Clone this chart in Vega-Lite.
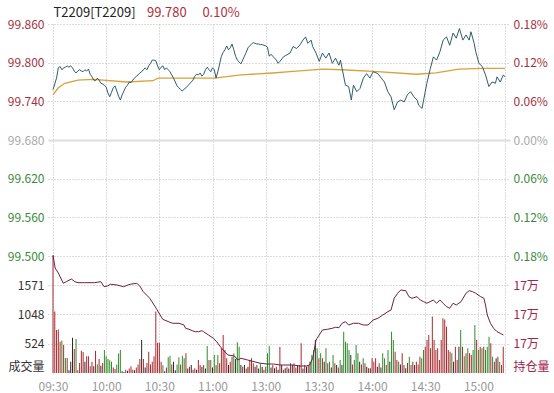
{
  "$schema": "https://vega.github.io/schema/vega-lite/v6.json",
  "width": 462,
  "height": 349,
  "autosize": {"type": "none"},
  "padding": {"left": 48, "top": 24, "right": 44, "bottom": 20},
  "background": "white",
  "config": {
    "view": {"stroke": null},
    "axis": {"labelFont": "Noto Sans CJK SC", "labelFontSize": 12, "domain": false, "ticks": false, "tickSize": 0, "labelFlush": false, "labelOverlap": false, "title": null}
  },
  "datasets": {
    "price": [
      {"t":0,"p":99.758},{"t":1,"p":99.767},{"t":2,"p":99.776},{"t":3,"p":99.792},{"t":4,"p":99.794},{"t":5,"p":99.789},{"t":6,"p":99.792},{"t":7,"p":99.793},{"t":8,"p":99.795},{"t":9,"p":99.793},
      {"t":10,"p":99.795},{"t":11,"p":99.792},{"t":12,"p":99.787},{"t":13,"p":99.784},{"t":14,"p":99.787},{"t":15,"p":99.789},{"t":16,"p":99.787},{"t":17,"p":99.786},{"t":18,"p":99.789},{"t":19,"p":99.787},
      {"t":20,"p":99.790},{"t":21,"p":99.782},{"t":22,"p":99.778},{"t":23,"p":99.773},{"t":24,"p":99.772},{"t":25,"p":99.776},{"t":26,"p":99.773},{"t":27,"p":99.768},{"t":28,"p":99.767},{"t":29,"p":99.765},
      {"t":30,"p":99.762},{"t":31,"p":99.753},{"t":32,"p":99.747},{"t":33,"p":99.754},{"t":34,"p":99.761},{"t":35,"p":99.764},{"t":36,"p":99.756},{"t":37,"p":99.748},{"t":38,"p":99.742},{"t":39,"p":99.750},
      {"t":40,"p":99.756},{"t":41,"p":99.762},{"t":42,"p":99.765},{"t":43,"p":99.770},{"t":44,"p":99.769},{"t":45,"p":99.773},{"t":46,"p":99.776},{"t":47,"p":99.779},{"t":48,"p":99.781},{"t":49,"p":99.784},
      {"t":50,"p":99.786},{"t":51,"p":99.789},{"t":52,"p":99.792},{"t":53,"p":99.789},{"t":54,"p":99.795},{"t":55,"p":99.799},{"t":56,"p":99.804},{"t":57,"p":99.804},{"t":58,"p":99.803},{"t":59,"p":99.795},
      {"t":60,"p":99.789},{"t":61,"p":99.793},{"t":62,"p":99.795},{"t":63,"p":99.789},{"t":64,"p":99.792},{"t":65,"p":99.789},{"t":66,"p":99.786},{"t":67,"p":99.781},{"t":68,"p":99.776},{"t":69,"p":99.770},
      {"t":70,"p":99.764},{"t":71,"p":99.761},{"t":72,"p":99.758},{"t":73,"p":99.756},{"t":74,"p":99.759},{"t":75,"p":99.761},{"t":76,"p":99.764},{"t":77,"p":99.767},{"t":78,"p":99.770},{"t":79,"p":99.773},
      {"t":80,"p":99.779},{"t":81,"p":99.782},{"t":82,"p":99.781},{"t":83,"p":99.784},{"t":84,"p":99.779},{"t":85,"p":99.782},{"t":86,"p":99.789},{"t":87,"p":99.793},{"t":88,"p":99.789},{"t":89,"p":99.786},
      {"t":90,"p":99.792},{"t":91,"p":99.789},{"t":92,"p":99.776},{"t":93,"p":99.786},{"t":94,"p":99.798},{"t":95,"p":99.810},{"t":96,"p":99.816},{"t":97,"p":99.820},{"t":98,"p":99.826},{"t":99,"p":99.820},
      {"t":100,"p":99.823},{"t":101,"p":99.829},{"t":102,"p":99.820},{"t":103,"p":99.810},{"t":104,"p":99.804},{"t":105,"p":99.801},{"t":106,"p":99.798},{"t":107,"p":99.804},{"t":108,"p":99.810},{"t":109,"p":99.816},
      {"t":110,"p":99.823},{"t":111,"p":99.826},{"t":112,"p":99.829},{"t":113,"p":99.831},{"t":114,"p":99.830},{"t":115,"p":99.829},{"t":116,"p":99.829},{"t":117,"p":99.828},{"t":118,"p":99.828},{"t":119,"p":99.827},
      {"t":120,"p":99.826},{"t":121,"p":99.824},{"t":122,"p":99.810},{"t":123,"p":99.813},{"t":124,"p":99.810},{"t":125,"p":99.807},{"t":126,"p":99.804},{"t":127,"p":99.799},{"t":128,"p":99.802},{"t":130,"p":99.809},
      {"t":133.7,"p":99.815},{"t":135.5,"p":99.825},{"t":137.4,"p":99.822},{"t":139.2,"p":99.827},{"t":141,"p":99.835},{"t":142.5,"p":99.840},{"t":143.8,"p":99.830},{"t":145.6,"p":99.835},{"t":146.5,"p":99.825},{"t":148.4,"p":99.815},
      {"t":150.2,"p":99.802},{"t":152,"p":99.815},{"t":153.9,"p":99.807},{"t":155.7,"p":99.815},{"t":157.6,"p":99.799},{"t":159.4,"p":99.807},{"t":161.3,"p":99.796},{"t":162.2,"p":99.804},{"t":163.1,"p":99.791},{"t":165,"p":99.765},
      {"t":166.8,"p":99.763},{"t":168.3,"p":99.742},{"t":169.5,"p":99.765},{"t":171.4,"p":99.755},{"t":173.2,"p":99.760},{"t":175.1,"p":99.776},{"t":176.9,"p":99.783},{"t":178.8,"p":99.776},{"t":180.6,"p":99.786},{"t":183.3,"p":99.783},
      {"t":185.2,"p":99.776},{"t":187,"p":99.770},{"t":188.9,"p":99.755},{"t":190.7,"p":99.747},{"t":192.5,"p":99.727},{"t":194.4,"p":99.739},{"t":196.2,"p":99.742},{"t":198.1,"p":99.739},{"t":199.9,"p":99.750},{"t":201.7,"p":99.755},
      {"t":203.6,"p":99.747},{"t":205.4,"p":99.742},{"t":206.3,"p":99.734},{"t":208.2,"p":99.729},{"t":209.1,"p":99.742},{"t":210.9,"p":99.768},{"t":212.7,"p":99.789},{"t":214.6,"p":99.809},{"t":216.4,"p":99.804},{"t":218.3,"p":99.817},
      {"t":220.1,"p":99.835},{"t":222,"p":99.840},{"t":223.8,"p":99.827},{"t":225.7,"p":99.846},{"t":227.5,"p":99.838},{"t":229.3,"p":99.853},{"t":231.2,"p":99.835},{"t":233,"p":99.843},{"t":234.8,"p":99.835},{"t":235.8,"p":99.848},
      {"t":237.6,"p":99.830},{"t":238.5,"p":99.817},{"t":240.3,"p":99.799},{"t":242.2,"p":99.794},{"t":244,"p":99.781},{"t":245.9,"p":99.763},{"t":247.7,"p":99.770},{"t":249.6,"p":99.768},{"t":250.5,"p":99.778},{"t":252.3,"p":99.770},
      {"t":254.1,"p":99.781},{"t":255,"p":99.778}
    ],
    "avg": [
      {"t":0,"p":99.750},{"t":3,"p":99.761},{"t":6.7,"p":99.768},{"t":14,"p":99.773},{"t":23,"p":99.774},{"t":41.5,"p":99.770},{"t":56.4,"p":99.772},{"t":59.2,"p":99.776},{"t":91,"p":99.776},{"t":106,"p":99.781},
      {"t":124,"p":99.784},{"t":133.7,"p":99.786},{"t":152,"p":99.790},{"t":163,"p":99.789},{"t":183,"p":99.786},{"t":205,"p":99.782},{"t":216,"p":99.784},{"t":229,"p":99.790},{"t":242,"p":99.791},{"t":255,"p":99.791}
    ],
    "oi": [
      {"t":0,"o":172950},{"t":1.2,"o":172625},{"t":3,"o":172500},{"t":5.8,"o":172243},{"t":7.7,"o":172288},{"t":10.4,"o":172350},{"t":12.3,"o":172283},{"t":14.1,"o":172258},{"t":17.8,"o":172258},{"t":23.3,"o":172258},
      {"t":27,"o":172283},{"t":28.8,"o":172158},{"t":30.6,"o":172175},{"t":32.5,"o":172218},{"t":36.1,"o":172200},{"t":39.8,"o":172158},{"t":43.5,"o":172218},{"t":47.2,"o":172243},{"t":49,"o":172175},{"t":50.9,"o":172033},
      {"t":54.6,"o":171868},{"t":58.2,"o":171618},{"t":60.1,"o":171475},{"t":61.9,"o":171343},{"t":65.6,"o":171275},{"t":67.4,"o":171243},{"t":71.1,"o":171243},{"t":73.9,"o":171200},{"t":74.8,"o":171118},{"t":76.7,"o":171093},
      {"t":78.5,"o":171058},{"t":80.3,"o":171033},{"t":82.2,"o":171033},{"t":84,"o":171058},{"t":84.9,"o":171033},{"t":87.7,"o":170950},{"t":90.5,"o":170868},{"t":92.3,"o":170783},{"t":94.1,"o":170675},{"t":96,"o":170575},
      {"t":98.7,"o":170450},{"t":102.4,"o":170425},{"t":104.2,"o":170325},{"t":106.1,"o":170368},{"t":109.8,"o":170325},{"t":113.4,"o":170283},{"t":117.1,"o":170243},{"t":120.8,"o":170225},{"t":124.5,"o":170225},{"t":128.1,"o":170200},
      {"t":135.5,"o":170200},{"t":139.2,"o":170175},{"t":142.9,"o":170175},{"t":144.7,"o":170200},{"t":146.5,"o":170368},{"t":148.4,"o":170825},{"t":150.2,"o":170950},{"t":152,"o":171075},{"t":154.8,"o":171093},{"t":157.6,"o":171118},
      {"t":159.4,"o":171143},{"t":161.3,"o":171133},{"t":163.1,"o":171243},{"t":165,"o":171283},{"t":166.8,"o":171200},{"t":169.5,"o":171243},{"t":172.3,"o":171243},{"t":175.1,"o":171200},{"t":177.8,"o":171200},{"t":180.6,"o":171325},
      {"t":183.3,"o":171368},{"t":186.1,"o":171450},{"t":188.9,"o":171533},{"t":190.7,"o":171575},{"t":192.5,"o":171868},{"t":194.4,"o":171993},{"t":196.2,"o":172075},{"t":199,"o":172058},{"t":200.8,"o":171908},{"t":202.6,"o":171868},
      {"t":205.4,"o":171908},{"t":207.2,"o":171825},{"t":209.1,"o":171783},{"t":210.9,"o":171743},{"t":212.7,"o":171783},{"t":214.6,"o":171825},{"t":216.4,"o":171743},{"t":218.3,"o":171825},{"t":220.1,"o":171743},{"t":222,"o":171658},
      {"t":223.8,"o":171618},{"t":225.7,"o":171743},{"t":227.5,"o":171700},{"t":230.2,"o":171783},{"t":233,"o":171993},{"t":234.8,"o":172058},{"t":236.7,"o":172033},{"t":238.5,"o":171993},{"t":241.3,"o":171908},{"t":243.1,"o":171868},
      {"t":244,"o":171700},{"t":245,"o":171450},{"t":246.8,"o":171243},{"t":248.6,"o":171118},{"t":250.5,"o":171033},{"t":252.3,"o":170993},{"t":254.1,"o":170950}
    ],
    "vol": [
      {"t":0,"v":2095,"c":"r"},{"t":1,"v":1100,"c":"r"},{"t":2,"v":770,"c":"r"},{"t":3,"v":780,"c":"r"},{"t":4,"v":560,"c":"r"},{"t":5,"v":580,"c":"g"},{"t":6,"v":500,"c":"r"},{"t":7,"v":270,"c":"g"},{"t":8,"v":270,"c":"r"},{"t":9,"v":50,"c":"k"},
      {"t":10,"v":200,"c":"k"},{"t":11,"v":630,"c":"k"},{"t":12,"v":430,"c":"r"},{"t":13,"v":610,"c":"g"},{"t":14,"v":50,"c":"r"},{"t":15,"v":180,"c":"r"},{"t":16,"v":400,"c":"r"},{"t":17,"v":375,"c":"r"},{"t":18,"v":200,"c":"k"},{"t":19,"v":300,"c":"r"},
      {"t":20,"v":300,"c":"r"},{"t":21,"v":120,"c":"r"},{"t":22,"v":200,"c":"r"},{"t":23,"v":120,"c":"k"},{"t":24,"v":400,"c":"r"},{"t":25,"v":150,"c":"g"},{"t":26,"v":250,"c":"r"},{"t":27,"v":130,"c":"k"},{"t":28,"v":180,"c":"r"},{"t":29,"v":410,"c":"g"},
      {"t":30,"v":300,"c":"g"},{"t":31,"v":250,"c":"g"},{"t":32,"v":230,"c":"g"},{"t":33,"v":200,"c":"g"},{"t":34,"v":100,"c":"r"},{"t":35,"v":70,"c":"r"},{"t":36,"v":150,"c":"g"},{"t":37,"v":350,"c":"g"},{"t":38,"v":410,"c":"g"},{"t":39,"v":30,"c":"k"},
      {"t":40,"v":20,"c":"k"},{"t":41,"v":60,"c":"r"},{"t":42,"v":40,"c":"k"},{"t":43,"v":80,"c":"r"},{"t":44,"v":120,"c":"r"},{"t":45,"v":60,"c":"r"},{"t":46,"v":50,"c":"k"},{"t":47,"v":100,"c":"r"},{"t":48,"v":150,"c":"r"},{"t":49,"v":250,"c":"r"},
      {"t":50,"v":590,"c":"k"},{"t":51,"v":250,"c":"r"},{"t":52,"v":100,"c":"k"},{"t":53,"v":180,"c":"r"},{"t":54,"v":380,"c":"r"},{"t":55,"v":150,"c":"r"},{"t":56,"v":200,"c":"r"},{"t":57,"v":300,"c":"r"},{"t":58,"v":1100,"c":"r"},{"t":59,"v":540,"c":"r"},
      {"t":60,"v":540,"c":"r"},{"t":61,"v":200,"c":"r"},{"t":62,"v":140,"c":"g"},{"t":63,"v":30,"c":"k"},{"t":64,"v":100,"c":"r"},{"t":65,"v":280,"c":"g"},{"t":66,"v":310,"c":"g"},{"t":67,"v":150,"c":"r"},{"t":68,"v":200,"c":"k"},{"t":69,"v":50,"c":"k"},
      {"t":70,"v":150,"c":"g"},{"t":71,"v":280,"c":"g"},{"t":72,"v":150,"c":"r"},{"t":73,"v":310,"c":"g"},{"t":74,"v":263,"c":"g"},{"t":75,"v":352,"c":"r"},{"t":76,"v":80,"c":"k"},{"t":77,"v":113,"c":"r"},{"t":78,"v":143,"c":"k"},{"t":79,"v":60,"c":"r"},
      {"t":80,"v":84,"c":"r"},{"t":81,"v":60,"c":"k"},{"t":82,"v":233,"c":"r"},{"t":83,"v":143,"c":"r"},{"t":84,"v":113,"c":"k"},{"t":85,"v":143,"c":"r"},{"t":86,"v":80,"c":"k"},{"t":87,"v":483,"c":"g"},{"t":88,"v":233,"c":"r"},{"t":89,"v":233,"c":"g"},
      {"t":90,"v":100,"c":"k"},{"t":91,"v":322,"c":"g"},{"t":92,"v":143,"c":"r"},{"t":93,"v":322,"c":"g"},{"t":94,"v":173,"c":"r"},{"t":95,"v":442,"c":"r"},{"t":96,"v":680,"c":"r"},{"t":97,"v":412,"c":"r"},{"t":98,"v":263,"c":"r"},{"t":99,"v":143,"c":"k"},
      {"t":100,"v":200,"c":"r"},{"t":101,"v":292,"c":"r"},{"t":102,"v":352,"c":"g"},{"t":103,"v":250,"c":"k"},{"t":104,"v":549,"c":"g"},{"t":105,"v":471,"c":"g"},{"t":106,"v":143,"c":"k"},{"t":107,"v":113,"c":"r"},{"t":108,"v":143,"c":"k"},{"t":109,"v":80,"c":"r"},
      {"t":110,"v":113,"c":"k"},{"t":111,"v":233,"c":"r"},{"t":112,"v":263,"c":"r"},{"t":113,"v":173,"c":"r"},{"t":114,"v":113,"c":"k"},{"t":115,"v":143,"c":"r"},{"t":116,"v":80,"c":"k"},{"t":117,"v":173,"c":"g"},{"t":118,"v":113,"c":"k"},{"t":119,"v":60,"c":"r"},
      {"t":120,"v":113,"c":"r"},{"t":121,"v":352,"c":"g"},{"t":122,"v":483,"c":"g"},{"t":123,"v":100,"c":"k"},{"t":124,"v":143,"c":"r"},{"t":125,"v":84,"c":"k"},{"t":126,"v":113,"c":"r"},{"t":127,"v":60,"c":"k"},{"t":128,"v":471,"c":"r"},{"t":129,"v":143,"c":"k"},
      {"t":130,"v":60,"c":"r"},{"t":131,"v":84,"c":"k"},{"t":132,"v":113,"c":"r"},{"t":133,"v":80,"c":"k"},{"t":134,"v":173,"c":"r"},{"t":135,"v":143,"c":"k"},{"t":136,"v":173,"c":"r"},{"t":137,"v":100,"c":"r"},{"t":138,"v":143,"c":"k"},{"t":139,"v":143,"c":"r"},
      {"t":140,"v":531,"c":"r"},{"t":141,"v":80,"c":"k"},{"t":142,"v":143,"c":"r"},{"t":143,"v":113,"c":"k"},{"t":144,"v":143,"c":"r"},{"t":145,"v":200,"c":"k"},{"t":146,"v":322,"c":"g"},{"t":147,"v":412,"c":"g"},{"t":148,"v":590,"c":"k"},{"t":149,"v":442,"c":"g"},
      {"t":150,"v":263,"c":"r"},{"t":151,"v":352,"c":"g"},{"t":152,"v":263,"c":"r"},{"t":153,"v":200,"c":"k"},{"t":154,"v":442,"c":"g"},{"t":155,"v":173,"c":"r"},{"t":156,"v":203,"c":"g"},{"t":157,"v":100,"c":"k"},{"t":158,"v":322,"c":"g"},{"t":159,"v":173,"c":"r"},
      {"t":160,"v":143,"c":"k"},{"t":161,"v":100,"c":"r"},{"t":162,"v":233,"c":"g"},{"t":163,"v":143,"c":"k"},{"t":164,"v":740,"c":"g"},{"t":165,"v":561,"c":"g"},{"t":166,"v":531,"c":"g"},{"t":167,"v":412,"c":"g"},{"t":168,"v":322,"c":"k"},{"t":169,"v":150,"c":"r"},
      {"t":170,"v":233,"c":"g"},{"t":171,"v":501,"c":"g"},{"t":172,"v":352,"c":"g"},{"t":173,"v":203,"c":"k"},{"t":174,"v":150,"c":"r"},{"t":175,"v":263,"c":"g"},{"t":176,"v":173,"c":"r"},{"t":177,"v":113,"c":"k"},{"t":178,"v":84,"c":"r"},{"t":179,"v":84,"c":"k"},
      {"t":180,"v":263,"c":"r"},{"t":181,"v":203,"c":"r"},{"t":182,"v":263,"c":"r"},{"t":183,"v":113,"c":"k"},{"t":184,"v":173,"c":"r"},{"t":185,"v":100,"c":"k"},{"t":186,"v":352,"c":"g"},{"t":187,"v":263,"c":"g"},{"t":188,"v":143,"c":"r"},{"t":189,"v":412,"c":"g"},
      {"t":190,"v":200,"c":"k"},{"t":191,"v":740,"c":"g"},{"t":192,"v":590,"c":"g"},{"t":193,"v":382,"c":"r"},{"t":194,"v":233,"c":"r"},{"t":195,"v":203,"c":"g"},{"t":196,"v":150,"c":"k"},{"t":197,"v":352,"c":"r"},{"t":198,"v":143,"c":"r"},{"t":199,"v":84,"c":"k"},
      {"t":200,"v":180,"c":"r"},{"t":201,"v":292,"c":"g"},{"t":202,"v":143,"c":"r"},{"t":203,"v":203,"c":"r"},{"t":204,"v":143,"c":"k"},{"t":205,"v":203,"c":"r"},{"t":206,"v":150,"c":"r"},{"t":207,"v":292,"c":"r"},{"t":208,"v":263,"c":"g"},{"t":209,"v":412,"c":"g"},
      {"t":210,"v":471,"c":"r"},{"t":211,"v":590,"c":"r"},{"t":212,"v":680,"c":"r"},{"t":213,"v":442,"c":"r"},{"t":214,"v":1010,"c":"r"},{"t":215,"v":590,"c":"r"},{"t":216,"v":412,"c":"r"},{"t":217,"v":442,"c":"r"},{"t":218,"v":233,"c":"r"},{"t":219,"v":590,"c":"r"},
      {"t":220,"v":980,"c":"r"},{"t":221,"v":960,"c":"r"},{"t":222,"v":830,"c":"r"},{"t":223,"v":412,"c":"r"},{"t":224,"v":382,"c":"r"},{"t":225,"v":352,"c":"g"},{"t":226,"v":200,"c":"k"},{"t":227,"v":471,"c":"r"},{"t":228,"v":233,"c":"r"},{"t":229,"v":471,"c":"k"},
      {"t":230,"v":770,"c":"g"},{"t":231,"v":471,"c":"r"},{"t":232,"v":300,"c":"g"},{"t":233,"v":352,"c":"r"},{"t":234,"v":442,"c":"g"},{"t":235,"v":352,"c":"r"},{"t":236,"v":322,"c":"r"},{"t":237,"v":412,"c":"g"},{"t":238,"v":860,"c":"g"},{"t":239,"v":590,"c":"r"},
      {"t":240,"v":412,"c":"g"},{"t":241,"v":471,"c":"r"},{"t":242,"v":442,"c":"g"},{"t":243,"v":471,"c":"r"},{"t":244,"v":412,"c":"g"},{"t":245,"v":471,"c":"g"},{"t":246,"v":650,"c":"g"},{"t":247,"v":531,"c":"r"},{"t":248,"v":292,"c":"g"},{"t":249,"v":203,"c":"r"},
      {"t":250,"v":263,"c":"k"},{"t":251,"v":292,"c":"r"},{"t":252,"v":203,"c":"g"},{"t":253,"v":143,"c":"r"},{"t":254,"v":471,"c":"r"}
    ]
  },
  "layer": [
    {
      "data": {"name": "vol"},
      "mark": {"type": "bar", "size": 1},
      "encoding": {
        "x": {"field": "t", "type": "quantitative", "scale": {"domain": [0, 255], "nice": false, "zero": false}, "axis": null},
        "y": {"field": "v", "type": "quantitative", "scale": {"domain": [0, 2095], "range": [349, 232], "nice": false, "zero": true}, "axis": null},
        "color": {"field": "c", "type": "nominal", "scale": {"domain": ["r", "g", "k"], "range": ["#a82a2e", "#2f8a2a", "#2a2a2a"]}, "legend": null}
      }
    },
    {
      "data": {"name": "oi"},
      "mark": {"type": "line", "color": "#6e1f3e", "strokeWidth": 1},
      "encoding": {
        "x": {"field": "t", "type": "quantitative", "scale": {"domain": [0, 255], "nice": false, "zero": false}, "axis": null},
        "y": {"field": "o", "type": "quantitative", "scale": {"domain": [170000, 172925], "range": [349, 232], "nice": false, "zero": false}, "axis": null}
      }
    },
    {
      "data": {"name": "avg"},
      "mark": {"type": "line", "color": "#d9a13a", "strokeWidth": 1.3},
      "encoding": {
        "x": {"field": "t", "type": "quantitative", "scale": {"domain": [0, 255], "nice": false, "zero": false},
          "axis": {"orient": "top", "values": [0, 52.7, 84], "grid": false,
            "labelExpr": "datum.value == 0 ? 'T2209[T2209]' : datum.value < 60 ? '99.780' : '0.10%'",
            "labelAlign": "left", "labelFontSize": 13, "labelPadding": 5,
            "labelColor": {"condition": {"test": "datum.value == 0", "value": "#222222"}, "value": "#b0303a"}}},
        "y": {"field": "p", "type": "quantitative", "scale": {"domain": [99.31845, 99.86], "nice": false, "zero": false},
          "axis": {"orient": "right", "grid": false, "labelPadding": 3,
            "values": [99.86, 99.8, 99.74, 99.68, 99.62, 99.56, 99.5, 99.4546, 99.40927, 99.36385, 99.32854],
            "labelExpr": "datum.value > 99.49 ? format(abs(datum.value - 99.68) / 99.68 * 100, '.2f') + '%' : datum.value > 99.34 ? '17万' : '持仓量'",
            "labelColor": {"condition": [{"test": "datum.value > 99.681", "value": "#a3323f"}, {"test": "datum.value > 99.679", "value": "#aaaaaa"}, {"test": "datum.value > 99.49", "value": "#3b8a3b"}], "value": "#a3224a"}}}
      }
    },
    {
      "data": {"name": "price"},
      "mark": {"type": "line", "color": "#2f5d6c", "strokeWidth": 1},
      "encoding": {
        "x": {"field": "t", "type": "quantitative", "scale": {"domain": [0, 255], "nice": false, "zero": false},
          "axis": {"orient": "bottom", "values": [0, 30, 60, 90, 120, 150, 180, 210, 240, 255], "grid": true, "gridDash": [1, 2], "gridColor": "#bbbbbb",
            "labelExpr": "datum.value == 0 ? '09:30' : datum.value == 30 ? '10:00' : datum.value == 60 ? '10:30' : datum.value == 90 ? '11:00' : datum.value == 120 ? '13:00' : datum.value == 150 ? '13:30' : datum.value == 180 ? '14:00' : datum.value == 210 ? '14:30' : datum.value == 240 ? '15:00' : ''",
            "labelColor": "#999999", "labelPadding": 8}},
        "y": {"field": "p", "type": "quantitative", "scale": {"domain": [99.31845, 99.86], "nice": false, "zero": false},
          "axis": {"orient": "left", "grid": true, "labelPadding": 4,
            "values": [99.86, 99.8, 99.74, 99.68, 99.62, 99.56, 99.5, 99.4546, 99.40927, 99.36385, 99.32854],
            "labelExpr": "datum.value > 99.49 ? format(datum.value, '.3f') : datum.value > 99.44 ? '1571' : datum.value > 99.39 ? '1048' : datum.value > 99.35 ? '524' : '成交量'",
            "gridDash": {"condition": {"test": "abs(datum.value - 99.68) < 0.001", "value": [1, 0]}, "value": [1, 2]},
            "gridColor": {"condition": {"test": "abs(datum.value - 99.68) < 0.001", "value": "#dddddd"}, "value": "#bbbbbb"},
            "gridWidth": {"condition": {"test": "abs(datum.value - 99.68) < 0.001", "value": 2}, "value": 1},
            "gridOpacity": {"condition": {"test": "datum.value < 99.34", "value": 0}, "value": 1},
            "labelColor": {"condition": [{"test": "datum.value > 99.681", "value": "#a3323f"}, {"test": "datum.value > 99.679", "value": "#aaaaaa"}, {"test": "datum.value > 99.49", "value": "#3b8a3b"}], "value": "#333333"}}}
      }
    }
  ],
  "resolve": {"scale": {"y": "independent"}, "axis": {"x": "independent", "y": "independent"}}
}
